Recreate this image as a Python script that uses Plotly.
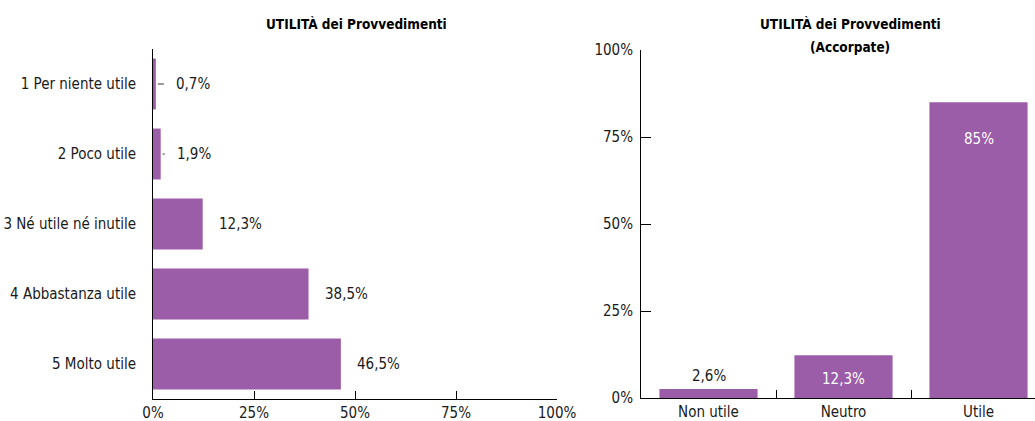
import plotly.graph_objects as go

W, H = 1035, 421
FONT = "DejaVu Sans Condensed, Liberation Sans Narrow, Arial Narrow, sans-serif"
PURPLE = "#9b5ca8"
INK = "#1a1a1a"

# ---- data ----
categories_left = ["1 Per niente utile", "2 Poco utile", "3 Né utile né inutile",
                   "4 Abbastanza utile", "5 Molto utile"]
values_left = [0.7, 1.9, 12.3, 38.5, 46.5]
labels_left = ["0,7%", "1,9%", "12,3%", "38,5%", "46,5%"]

categories_right = ["Non utile", "Neutro", "Utile"]
values_right = [2.6, 12.3, 85]
labels_right = ["2,6%", "12,3%", "85%"]

pct_ticks = [0, 25, 50, 75, 100]
pct_ticktext = ["0%", "25%", "50%", "75%", "100%"]

title_left = "UTILITÀ dei Provvedimenti"
title_right = ["UTILITÀ dei Provvedimenti", "(Accorpate)"]

fig = go.Figure()
fig.add_trace(go.Bar(orientation="h", x=values_left, y=categories_left,
                     xaxis="x", yaxis="y", marker=dict(color=PURPLE, line=dict(width=0)),
                     hoverinfo="skip", showlegend=False))
fig.add_trace(go.Bar(x=categories_right, y=values_right,
                     xaxis="x2", yaxis="y2", marker=dict(color=PURPLE, line=dict(width=0)),
                     hoverinfo="skip", showlegend=False))

tickfont = dict(family=FONT, size=15, color=INK)
axis_common = dict(showline=True, linecolor="#000", linewidth=1, showgrid=False,
                   zeroline=False, tickfont=tickfont, tickcolor="#000", tickwidth=1,
                   automargin=False)

left_x0, left_x1 = 153, 557
left_top, left_bot = 49, 399
right_x0 = 641
right_top, right_bot = 50, 398
cat_w = 135

fig.update_layout(
    width=W, height=H, margin=dict(l=0, r=0, t=0, b=0, pad=0, autoexpand=False),
    paper_bgcolor="white", plot_bgcolor="white",
    bargap=0.273, showlegend=False,
    font=dict(family=FONT, size=15, color=INK),
    xaxis=dict(domain=[left_x0 / W, left_x1 / W], anchor="y", range=[0, 100],
               tickvals=pct_ticks, ticktext=pct_ticktext, ticks="inside", ticklen=8,
               **axis_common),
    yaxis=dict(domain=[(H - left_bot) / H, (H - left_top) / H], anchor="x",
               type="category", categoryorder="array", categoryarray=categories_left,
               range=[len(categories_left) - 0.5, -0.5], ticks="", ticklabelstandoff=13,
               **axis_common),
    xaxis2=dict(domain=[right_x0 / W, 1], anchor="y2", type="category",
                range=[-0.5, -0.5 + (W - right_x0) / cat_w], tickson="boundaries",
                ticks="inside", ticklen=8, **axis_common),
    yaxis2=dict(domain=[(H - right_bot) / H, (H - right_top) / H], anchor="x2",
                range=[0, 100], tickvals=pct_ticks, ticktext=pct_ticktext,
                ticks="inside", ticklen=10, ticklabelstandoff=4, **axis_common),
)

annotations = []
shapes = []
for cat, v, lab in zip(categories_left, values_left, labels_left):
    xs = 18 if v < 1 else 14
    annotations.append(dict(x=v, y=cat, xref="x", yref="y", text=lab, showarrow=False,
                            xanchor="left", yanchor="middle", xshift=xs,
                            font=dict(family=FONT, size=15, color=INK)))
    if v < 5:
        shapes.append(dict(type="line", xref="x", yref="y", xsizemode="pixel", xanchor=v,
                           x0=2, x1=xs - 10, y0=cat, y1=cat,
                           line=dict(color="#333", width=1)))

right_style = [("bottom", 2, INK), ("top", -13, "white"), ("top", -26, "white")]
for cat, v, lab, (ya, ys, col) in zip(categories_right, values_right, labels_right, right_style):
    annotations.append(dict(x=cat, y=v, xref="x2", yref="y2", text=lab, showarrow=False,
                            xanchor="center", yanchor=ya, yshift=ys,
                            font=dict(family=FONT, size=15, color=col)))

tfont = dict(family=FONT, size=13.5, color="#000", weight="bold")
annotations.append(dict(x=356 / W, y=(H - 24) / H, xref="paper", yref="paper",
                        text=title_left, showarrow=False, xanchor="center",
                        yanchor="middle", font=tfont))
annotations.append(dict(x=850 / W, y=(H - 24) / H, xref="paper", yref="paper",
                        text=title_right[0], showarrow=False, xanchor="center",
                        yanchor="middle", font=tfont))
annotations.append(dict(x=850 / W, y=(H - 47) / H, xref="paper", yref="paper",
                        text=title_right[1], showarrow=False, xanchor="center",
                        yanchor="middle", font=tfont))

fig.update_layout(annotations=annotations, shapes=shapes)
fig.write_html("out.html",
               config={"displayModeBar": False, "staticPlot": True},
               post_script="document.body.style.margin='0';document.body.style.padding='0';"
                           "document.body.style.overflow='hidden';")
